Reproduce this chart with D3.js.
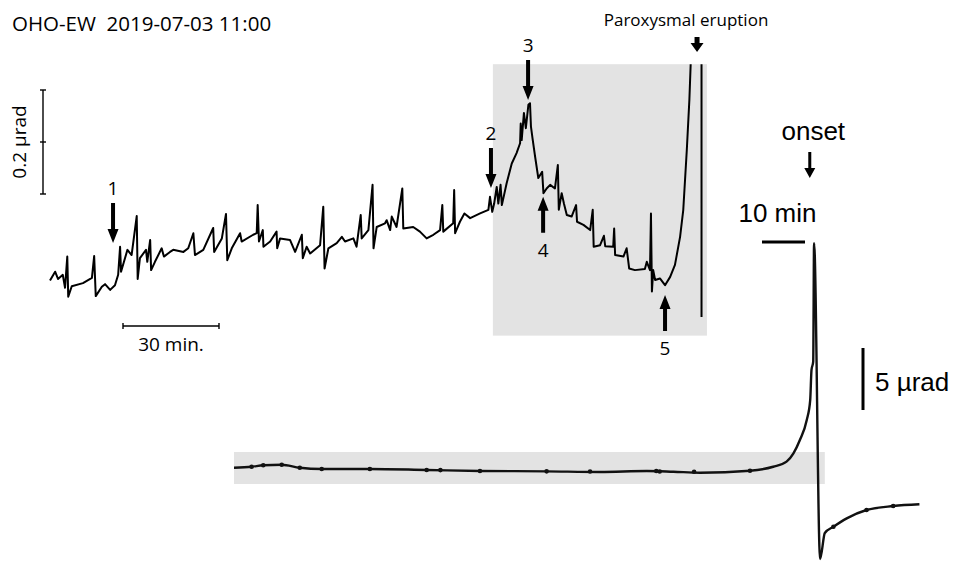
<!DOCTYPE html>
<html>
<head>
<meta charset="utf-8">
<script src="https://cdn.jsdelivr.net/npm/d3@7"></script>
<style>
  html, body { margin: 0; padding: 0; background: #fff; }
  svg { display: block; }
</style>
</head>
<body>
<svg id="chart" width="958" height="561"></svg>
<script>
// ---- Upper trace: OHO-EW tilt before the paroxysm (time in min, tilt in nrad) ----
const upperTime = [
  0, 1.6, 2.5, 4.0, 4.7, 5.4, 5.7, 6.8, 10.3, 13.1, 13.8, 14.3, 16.2, 17.2, 18.8, 20.3,
  21.3, 21.9, 22.2, 24.2, 25.5, 27.1, 27.4, 28.1, 30.0, 30.4, 31.3, 31.6, 32.8, 34.9, 35.6,
  37.5, 38.5, 41.7, 43.2, 44.8, 45.3, 47.9, 51.0, 51.3, 53.7, 55.0, 55.4, 56.8, 59.4, 59.9,
  63.5, 64.6, 64.9, 65.3, 66.5, 66.7, 68.8, 70.8, 71.0, 71.9, 75.0, 76.6, 78.7, 79.0, 80.2,
  81.3, 84.4, 85.4, 85.8, 87.0, 89.6, 91.2, 92.2, 94.8, 95.8, 97.1, 97.4, 99.5, 100.8, 101.1,
  102.1, 104.7, 105.2, 106.3, 106.8, 108.3, 110.1, 110.4, 113.5, 115.6, 117.7, 119.8, 121.9,
  122.6, 122.9, 126.0, 126.3, 126.6, 128.1, 129.5, 131.3, 134.4, 137.0, 137.5, 138.2, 138.8,
  139.6, 140.1, 140.8, 141.2, 142.7, 144.3, 145.8, 146.9, 147.1, 147.4, 148.1, 148.7, 149.5,
  150.0, 150.3, 150.8, 151.6, 152.6, 153.8, 154.2, 155.2, 156.3, 157.8, 158.7, 159.0, 159.9,
  160.6, 161.5, 163.0, 164.4, 164.7, 166.7, 168.8, 169.6, 169.9, 171.9, 173.1, 173.5, 176.0,
  176.3, 176.6, 179.2, 180.2, 181.0, 182.8, 185.9, 186.5, 187.5, 187.8, 188.1, 188.5, 189.1,
  190.6, 192.2, 193.8, 195.3, 196.9, 197.9, 199.0, 199.8, 200.2, 200.5, 203.6, 203.6
];
const upperTilt = [
  -1, 16, 2, 10, -15, 45, -32, -12, -6, 4, 46, -31, -13, -8, -19, -10,
  10, 64, 16, 58, 48, 123, 2, 42, 58, 35, 77, 19, 35, 61, 45,
  54, 58, 54, 61, 90, 48, 58, 100, 54, 80, 127, 38, 61, 90, 74,
  87, 90, 144, 74, 96, 64, 74, 93, 61, 80, 77, 54, 87, 42, 64,
  51, 67, 141, 22, 61, 71, 83, 74, 80, 64, 125, 80, 96, 183, 61,
  102, 109, 115, 96, 122, 102, 176, 99, 102, 93, 80, 87, 96,
  144, 93, 109, 173, 90, 112, 128, 119, 128, 135, 160, 131, 147,
  179, 147, 183, 144, 186, 224, 244, 263, 301, 269, 321, 292, 337,
  340, 295, 272, 237, 196, 208, 167, 176, 183, 176, 221, 135, 167,
  147, 125, 122, 144, 112, 106, 96, 135, 64, 67, 85, 65, 64,
  99, 48, 45, 61, 22, 19, 21, 35, 19, 128, -22, 19, 0,
  3, -10, 6, 29, 83, 135, 250, 346, 413, 500, 1500, -71
];

// Numbered stages along the upper trace (time, arrow tip tilt, direction)
const stageLabels = ["1", "2", "3", "4", "5"];
const stageTime   = [19.7, 137.8, 149.4, 154.1, 192.2];
const stageTip    = [71, 177, 346, 160, -29];
const stageDir    = ["down", "down", "down", "up", "up"];

// Window shown in grey on the upper panel (time range, tilt range)
const windowTime = [138.4, 205.3];
const windowTilt = [-107, 415];

// ---- Lower trace: the full eruption signal (time in min, tilt in µrad) ----
const lowerTime = [
  0, 4.1, 6.8, 11.1, 15.3, 20.4, 31.6, 44.8, 57.2, 72.7, 85.1, 96.0, 102.2, 108.4,
  120.0, 125.4, 128.5, 130.1, 131.6, 133.2, 134.0, 134.3, 134.7, 134.9, 136.3, 137.4,
  139.4, 142.5, 147.1, 153.3, 159.4
];
const lowerTilt = [
  -0.14, -0.06, 0.06, 0.10, -0.14, -0.24, -0.24, -0.32, -0.40, -0.43, -0.48, -0.40, -0.46, -0.54,
  -0.38, -0.06, 0.35, 1.02, 2.10, 3.71, 5.32, 7.74, 8.41, 17.96, -7.50, -5.40,
  -4.90, -4.22, -3.55, -3.23, -3.09
];
// Small sample marks along the lower trace
const lowerMarkTime = [4.1, 6.8, 11.1, 15.3, 20.4, 31.6, 44.8, 48.0, 57.2, 72.7, 82.8, 98.2, 99.0, 107.0, 120.0, 139.4, 147.1, 153.3];
const lowerMarkTilt = [-0.06, 0.06, 0.10, -0.14, -0.24, -0.24, -0.32, -0.33, -0.40, -0.43, -0.44, -0.40, -0.44, -0.46, -0.38, -4.90, -3.55, -3.23];
const lowerWindowTime = [0, 137.4];
const lowerWindowTilt = [-1.45, 1.13];
const onsetTime = 134.6;

// Scale bar amounts
const upperBarTilt = 200;  // nrad = 0.2 µrad
const upperBarTime = 30;   // min
const lowerBarTime = 10;   // min
const lowerBarTilt = 5;    // µrad

const svg = d3.select("#chart");
const GREY = "#e3e3e3";
const SANS = "'Open Sans', 'Noto Sans', sans-serif";
const ARIAL = "'Liberation Sans', Arial, sans-serif";

// Scales
const xU = d3.scaleLinear().domain([0, 204]).range([50, 702.8]);
const yU = d3.scaleLinear().domain([0, 200]).range([280, 176]);
const xL = d3.scaleLinear().domain([0, 160]).range([234, 922]);
const yL = d3.scaleLinear().domain([0, 5]).range([466, 404]);

// Grey windows
svg.append("rect")
  .attr("x", xU(windowTime[0])).attr("y", yU(windowTilt[1]))
  .attr("width", xU(windowTime[1]) - xU(windowTime[0]))
  .attr("height", yU(windowTilt[0]) - yU(windowTilt[1]))
  .attr("fill", GREY);
svg.append("rect")
  .attr("x", xL(lowerWindowTime[0])).attr("y", yL(lowerWindowTilt[1]))
  .attr("width", xL(lowerWindowTime[1]) - xL(lowerWindowTime[0]))
  .attr("height", yL(lowerWindowTilt[0]) - yL(lowerWindowTilt[1]))
  .attr("fill", GREY);

// Upper trace, clipped at the top of the grey window
svg.append("clipPath").attr("id", "upclip").append("rect")
  .attr("x", 0).attr("y", yU(windowTilt[1])).attr("width", 958).attr("height", 561);
const upperData = upperTime.map((t, i) => [t, upperTilt[i]]);
svg.append("path")
  .datum(upperData)
  .attr("clip-path", "url(#upclip)")
  .attr("fill", "none").attr("stroke", "#000").attr("stroke-width", 2)
  .attr("stroke-linejoin", "round")
  .attr("d", d3.line().x(d => xU(d[0])).y(d => yU(d[1])));

// Lower trace
const lowerData = lowerTime.map((t, i) => [t, lowerTilt[i]]);
svg.append("path")
  .datum(lowerData)
  .attr("fill", "none").attr("stroke", "#111").attr("stroke-width", 2.4)
  .attr("stroke-linejoin", "round")
  .attr("d", d3.line().x(d => xL(d[0])).y(d => yL(d[1])).curve(d3.curveMonotoneX));
svg.selectAll("circle.mark").data(lowerMarkTime).join("circle")
  .attr("class", "mark")
  .attr("cx", d => xL(d))
  .attr("cy", (d, i) => yL(lowerMarkTilt[i]))
  .attr("r", 2.3)
  .attr("fill", "#111");

// Block arrow helper
function arrow(x, yTail, yTip, shaft, headW, headH) {
  const s = yTip > yTail ? 1 : -1;
  const yb = yTip - s * headH;
  const p = d3.path();
  p.moveTo(x - shaft / 2, yTail);
  p.lineTo(x + shaft / 2, yTail);
  p.lineTo(x + shaft / 2, yb);
  p.lineTo(x + headW / 2, yb);
  p.lineTo(x, yTip);
  p.lineTo(x - headW / 2, yb);
  p.lineTo(x - shaft / 2, yb);
  p.closePath();
  svg.append("path").attr("d", p.toString()).attr("fill", "#000");
}

// Stage arrows with numbers
stageLabels.forEach((lab, i) => {
  const x = xU(stageTime[i]);
  const tip = yU(stageTip[i]);
  const t = svg.append("text").attr("x", x)
    .attr("text-anchor", "middle").attr("font-family", SANS).attr("font-size", 19)
    .attr("fill", "#000").text(lab);
  if (stageDir[i] === "down") {
    arrow(x, tip - 40, tip, 4, 11, 14);
    t.attr("y", tip - 48);
  } else {
    arrow(x, tip + 36, tip, 4, 11, 14);
    t.attr("y", tip + 60);
  }
});

// Paroxysmal eruption marker
const parX = xU(202.2);
arrow(parX, 37, 52, 5, 13, 9);
svg.append("text").attr("x", parX - 11).attr("y", 26)
  .attr("text-anchor", "middle").attr("font-family", SANS).attr("font-size", 17)
  .text("Paroxysmal eruption");

// Title
svg.append("text").attr("x", 12).attr("y", 31)
  .attr("font-family", SANS).attr("font-size", 20.5)
  .attr("xml:space", "preserve").style("white-space", "pre")
  .text("OHO-EW  2019-07-03 11:00");

// Upper tilt scale bar (0.2 µrad, tick at the midpoint)
const barX = 43, barTop = 90;
const barLen = yU(0) - yU(upperBarTilt);
const g1 = svg.append("g").attr("stroke", "#000").attr("stroke-width", 1.4);
g1.append("line").attr("x1", barX).attr("x2", barX).attr("y1", barTop).attr("y2", barTop + barLen);
[0, 0.5, 1].forEach(f => g1.append("line")
  .attr("x1", barX - 3).attr("x2", barX + 3)
  .attr("y1", barTop + f * barLen).attr("y2", barTop + f * barLen));
svg.append("text")
  .attr("transform", `translate(26,${barTop + barLen / 2}) rotate(-90)`)
  .attr("text-anchor", "middle").attr("font-family", SANS).attr("font-size", 19)
  .text("0.2 µrad");

// Upper time scale bar (30 min)
const tX0 = 123, tY = 326;
const tLen = xU(upperBarTime) - xU(0);
const g2 = svg.append("g").attr("stroke", "#000").attr("stroke-width", 1.4);
g2.append("line").attr("x1", tX0).attr("x2", tX0 + tLen).attr("y1", tY).attr("y2", tY);
[0, 1].forEach(f => g2.append("line")
  .attr("x1", tX0 + f * tLen).attr("x2", tX0 + f * tLen).attr("y1", tY - 3).attr("y2", tY + 3));
svg.append("text").attr("x", tX0 + tLen / 2).attr("y", 351)
  .attr("text-anchor", "middle").attr("font-family", SANS).attr("font-size", 19)
  .text("30 min.");

// Onset marker
const onX = xL(onsetTime) - 3;
svg.append("text").attr("x", onX + 3.5).attr("y", 140)
  .attr("text-anchor", "middle").attr("font-family", ARIAL).attr("font-size", 26)
  .text("onset");
arrow(onX, 152, 178, 3, 11, 10);

// Lower time scale bar (10 min)
const lLen = xL(lowerBarTime) - xL(0);
svg.append("line").attr("x1", 805 - lLen).attr("x2", 805).attr("y1", 242).attr("y2", 242)
  .attr("stroke", "#000").attr("stroke-width", 3);
svg.append("text").attr("x", 777.5).attr("y", 222)
  .attr("text-anchor", "middle").attr("font-family", ARIAL).attr("font-size", 26)
  .text("10 min");

// Lower tilt scale bar (5 µrad)
const vLen = yL(0) - yL(lowerBarTilt);
svg.append("line").attr("x1", 863).attr("x2", 863).attr("y1", 348).attr("y2", 348 + vLen)
  .attr("stroke", "#000").attr("stroke-width", 3);
svg.append("text").attr("x", 875).attr("y", 391)
  .attr("font-family", ARIAL).attr("font-size", 26)
  .text("5 µrad");
</script>
</body>
</html>
